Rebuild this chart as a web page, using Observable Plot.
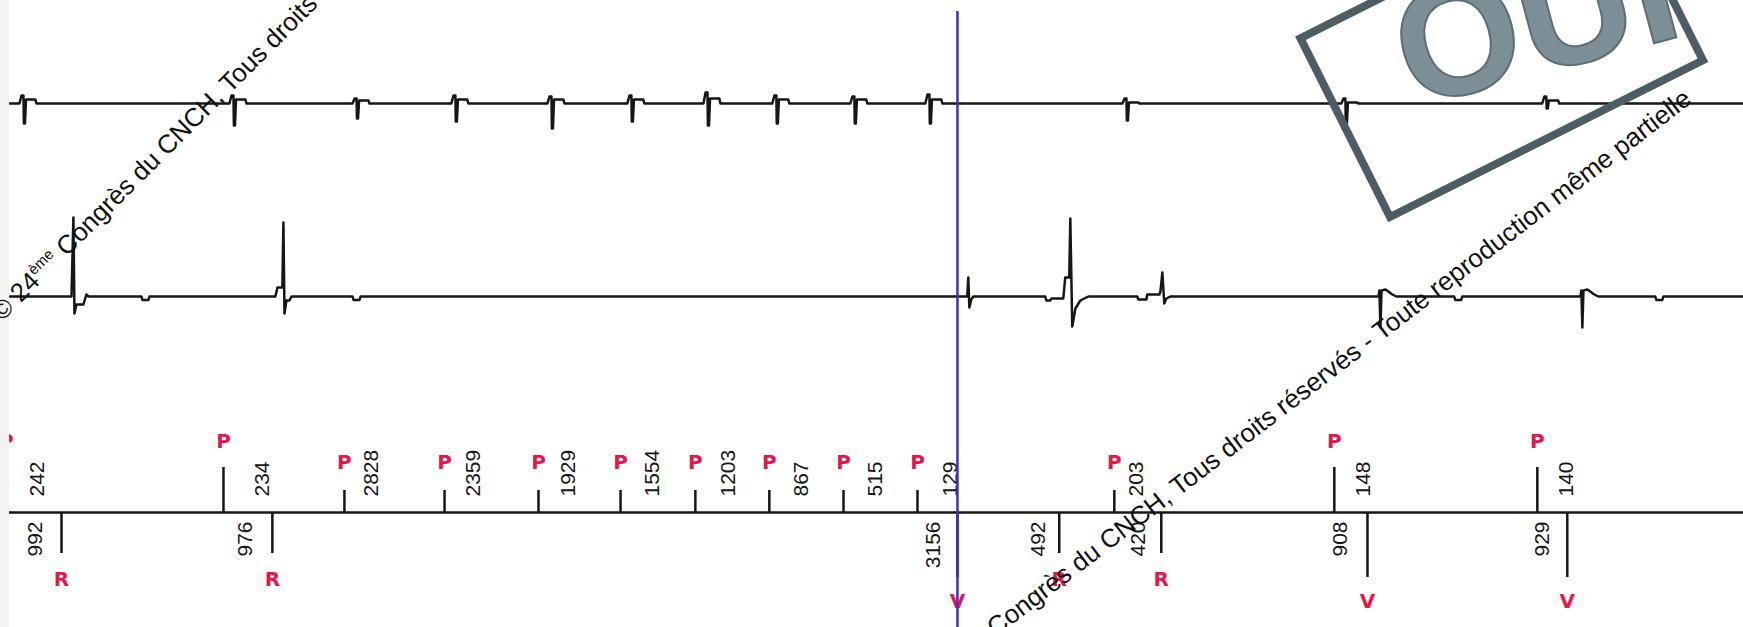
<!DOCTYPE html>
<html><head><meta charset="utf-8">
<script src="https://cdn.jsdelivr.net/npm/d3@7"></script>
<script src="https://cdn.jsdelivr.net/npm/@observablehq/plot@0.6"></script>
<style>
html,body{margin:0;padding:0;background:#fff;}
#wrap{position:relative;width:1743px;height:627px;overflow:hidden;background:#fff;}
#chart{position:absolute;left:0;top:0;}
#strip{position:absolute;left:0;top:0;width:9px;height:627px;background:#f3f3f3;}
#wm{position:absolute;left:0;top:0;pointer-events:none;}
</style></head>
<body><div id="wrap"><div id="chart"></div><div id="strip"></div>
<svg id="wm" width="1743" height="627" xmlns="http://www.w3.org/2000/svg">
  <g transform="translate(1390,217) rotate(-26.6)">
    <rect x="0" y="-200" width="350" height="200" fill="none" stroke="#4d5d63" stroke-width="8"/>
  </g>
  <text transform="translate(1412,108) rotate(-15)" font-family="Liberation Sans, Arial" font-weight="bold" font-size="160" fill="#7c8f96" stroke="#5d6e74" stroke-width="2">OUI</text>
  <text transform="translate(2,322) rotate(-45)" font-family="Liberation Sans, Arial" font-size="26" fill="#111">© 24<tspan font-size="15" dy="-10">ème</tspan><tspan dy="10"> Congrès du CNCH, Tous droits réservés - Toute reproduction même partielle</tspan></text>
  <text transform="translate(1693,102) rotate(-37.5)" text-anchor="end" font-family="Liberation Sans, Arial" font-size="26" fill="#111">© 24ème Congrès du CNCH, Tous droits réservés - Toute reproduction même partielle</text>
</svg>
</div>
<script>
// ---------- DATA (time in ms, amplitudes in arbitrary units) ----------
// Atrial channel (top trace): deflection times and amplitudes
const atrialTimes = [108, 1096, 1675, 2140, 2592, 2968, 3326, 3650, 4017, 4370, 5297, 6327, 7272];
const atrialUp    = [0.8, 0.8, 0.5, 0.8, 0.7, 0.8, 1.1, 0.8, 0.7, 0.9, 0.5, 0.5, 0.7];
const atrialDown  = [2.0, 2.2, 1.5, 1.8, 2.5, 1.8, 2.2, 2.0, 2.0, 2.0, 1.7, 2.0, 0.5];
const atrialFlag  = [0.4, 0.4, 0.3, 0.4, 0.4, 0.4, 0.5, 0.4, 0.4, 0.4, 0.1, 0.1, 0.3];
// atrial deflection shape: [ms offset, weight of up, weight of down, weight of flag]
const atrialShape = [[-19,0,0,0],[-9,1,0,0],[0,1,0,0],[2,0,-1,0],[7,0,-1,0],[12,0,0,1],[56,0,0,1],[61,0,0,0]];

// Ventricular channel (middle trace): complexes
const ventTimes = [343, 682, 1331, 1675, 4553, 5033, 5466, 6492, 6858, 7442, 7804];
const ventKinds = ["R1", "T", "R2", "T", "stim", "R3", "r", "Vp", "T", "Vp", "T"];
const ventShapes = {
  R1:   [[-9,0],[0,7.9],[5,-1.7],[14,-0.8],[47,-0.8],[61,0.2],[71,0]],
  R2:   [[-38,0],[-28,0.9],[-5,0.9],[0,7.4],[5,-1.7],[14,-0.4],[28,-0.4],[38,0]],
  R3:   [[-118,0],[-113,-0.4],[-94,-0.4],[-89,-0.2],[-33,-0.2],[-24,1.9],[-5,1.9],[0,7.8],[9,-3.0],[24,-1.2],[47,-0.4],[85,0]],
  stim: [[-5,0],[0,1.9],[5,-1.1],[14,-0.3],[24,0]],
  r:    [[-118,0],[-113,-0.3],[-75,-0.3],[-71,0.2],[-14,0.2],[-9,0.5],[0,2.4],[9,-0.7],[19,-0.2],[38,0]],
  Vp:   [[-9,0],[-5,0.6],[0,-3.1],[5,0.6],[24,0.7],[56,0.2],[75,0]],
  T:    [[-19,0],[-14,-0.35],[14,-0.35],[19,0]]
};

// Marker channel
const markerTimes = [28, 287, 1049, 1279, 1618, 2089, 2531, 2917, 3269, 3617, 3966, 4314, 4502, 4981, 5240, 5461, 6275, 6431, 7230, 7371];
const markerTypes = ["P","R","P","R","P","P","P","P","P","P","P","P","V","R","P","R","P","V","P","V"];
const markerSensed = [true,true,true,true,false,false,false,false,false,false,false,false,true,true,false,true,true,true,true,true];

const aboveTexts = ["242","234","2828","2359","1929","1554","1203","867","515","129","203","148","140"];
const aboveTimes = [174, 1232, 1745, 2225, 2672, 3067, 3425, 3768, 4116, 4469, 5344, 6412, 7366];
const belowTexts = ["992","976","3156","492","420","908","929"];
const belowTimes = [165, 1152, 4389, 4883, 5353, 6303, 7254];

const cursorTime = 4502;

// ---------- BUILD ----------
const T0 = 45, T1 = 8200;
const laneA = 40.9, laneV = 21.6, laneM = 0;

const atrialPts = [{t: T0, y: laneA}];
atrialTimes.forEach((t, i) => {
  for (const [dt, cu, cd, cf] of atrialShape)
    atrialPts.push({t: t + dt, y: laneA + cu * atrialUp[i] + cd * atrialDown[i] + cf * atrialFlag[i]});
});
atrialPts.push({t: T1, y: laneA});

const ventPts = [{t: T0, y: laneV}];
ventTimes.forEach((t, i) => {
  for (const [dt, v] of ventShapes[ventKinds[i]]) ventPts.push({t: t + dt, y: laneV + v});
});
ventPts.push({t: T1, y: laneV});

const markers = markerTimes.map((t, i) => ({t, type: markerTypes[i], sensed: markerSensed[i]}));
const tickEnd = d => d.type === "P" ? (d.sensed ? 4.5 : 2.2) : d.type === "R" ? -4.1 : -6.5;
const letterY = d => d.type === "P" ? (d.sensed ? 7.1 : 5.0) : d.type === "R" ? -6.7 : -8.9;
const above = aboveTexts.map((s, i) => ({t: aboveTimes[i], s}));
const below = belowTexts.map((s, i) => ({t: belowTimes[i], s}));

const chart = Plot.plot({
  width: 1743, height: 627, margin: 0,
  style: {background: "transparent"},
  x: {domain: [0, T1], axis: null},
  y: {domain: [-11.5, 51.2], axis: null},
  marks: [
    Plot.line(atrialPts, {x: "t", y: "y", stroke: "#161616", strokeWidth: 2.5}),
    Plot.line(ventPts, {x: "t", y: "y", stroke: "#161616", strokeWidth: 2.5}),
    Plot.ruleY([laneM], {stroke: "#161616", strokeWidth: 2.6}),
    Plot.ruleX(markers, {x: "t", y1: laneM, y2: tickEnd, stroke: "#161616", strokeWidth: 2.5}),
    Plot.text(markers, {x: "t", y: letterY, text: "type", fill: "#e5174a", fontSize: 20, fontWeight: "bold", fontFamily: "DejaVu Sans"}),
    Plot.text(above, {x: "t", y: () => laneM, text: "s", rotate: -90, textAnchor: "start", dy: -16, fontSize: 21, fontFamily: "Liberation Sans", fill: "#161616"}),
    Plot.text(below, {x: "t", y: () => laneM, text: "s", rotate: -90, textAnchor: "end", dy: 9, fontSize: 21, fontFamily: "Liberation Sans", fill: "#161616"}),
    Plot.ruleX([cursorTime], {stroke: "#3b2fc6", strokeWidth: 2.5, insetTop: 11})
  ]
});
document.getElementById("chart").appendChild(chart);
</script></body></html>
